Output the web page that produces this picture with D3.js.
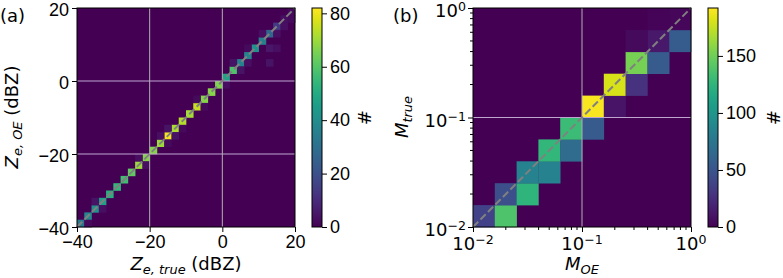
<!DOCTYPE html>
<html>
<head>
<meta charset="utf-8">
<script src="https://cdn.jsdelivr.net/npm/d3@7"></script>
<style>
  body { margin: 0; background: #fff; }
  svg { display: block; font-family: "DejaVu Sans", sans-serif; }
</style>
</head>
<body>
<svg id="chart" width="783" height="278"></svg>
<script>
// Panel (a): bin edges in dBZ, diagonal counts and the few off-diagonal cells
const zeEdges = [-40, -38, -36, -34, -32, -30, -28, -26, -24, -22, -20, -18, -16, -14, -12, -10,
  -8, -6, -4, -2, 0, 2, 4, 6, 8, 10, 12, 14, 16, 18, 20];
const zeDiag = [33, 38, 41, 47, 52, 54, 57, 62, 70, 67, 67, 70, 81, 72, 73, 71, 75, 67, 67, 66,
  48, 59, 36, 36, 41, 35, 27, 14, 3, 2];
const zeOff = [ // [x bin, y bin, count]
  [2, 3, 4], [3, 2, 3], [1, 0, 2], [8, 9, 3], [9, 8, 3], [12, 13, 4], [13, 12, 4], [11, 12, 3],
  [12, 11, 2], [14, 13, 2], [16, 17, 2], [17, 16, 2], [20, 19, 3], [21, 22, 4], [22, 21, 4],
  [23, 22, 3], [23, 24, 2], [26, 24, 5], [26, 22, 4], [27, 26, 3], [28, 27, 3], [27, 24, 3],
  [25, 26, 3], [29, 28, 2]
];
const zeTicks = [-40, -20, 0, 20];
const zeGrid = [-20, 0];
const zeCbTicks = [0, 20, 40, 60, 80];
const zeMax = 82;

// Panel (b): log bin edges and cell counts
const mEdges = [0.01, 0.01585, 0.02512, 0.03981, 0.0631, 0.1, 0.1585, 0.2512, 0.3981, 0.631, 1];
const mCells = [ // [x bin, y bin, count]
  [0, 0, 38], [1, 0, 138], [1, 1, 46], [2, 1, 125], [2, 2, 84], [3, 2, 84], [3, 3, 126],
  [4, 3, 67], [4, 4, 131], [5, 4, 54], [5, 5, 190], [6, 5, 10], [6, 6, 180], [7, 6, 27],
  [7, 7, 152], [8, 7, 54], [8, 8, 12], [9, 8, 55], [7, 8, 5], [9, 9, 3], [8, 9, 2]
];
const mTicks = [0.01, 0.1, 1];
const mExp = ["\u22122", "\u22121", "0"];
const mGrid = [0.1];
const mCbTicks = [0, 50, 100, 150];
const mMax = 192;

const svg = d3.select("#chart");
const fs = 18;

function panel(o) {
  const g = svg.append("g");
  const x = o.xScale, y = o.yScale;
  const color = d3.scaleSequential(d3.interpolateViridis).domain([0, o.vmax]);

  // background = zero count
  g.append("rect")
    .attr("x", o.x0).attr("y", o.y0)
    .attr("width", o.x1 - o.x0).attr("height", o.y1 - o.y0)
    .attr("fill", color(0));

  g.selectAll(".cell")
    .data(o.cells)
    .enter()
    .append("rect")
    .attr("x", (d) => x(o.edges[d[0]]))
    .attr("y", (d) => y(o.edges[d[1] + 1]))
    .attr("width", (d) => x(o.edges[d[0] + 1]) - x(o.edges[d[0]]) + 0.3)
    .attr("height", (d) => y(o.edges[d[1]]) - y(o.edges[d[1] + 1]) + 0.3)
    .attr("fill", (d) => color(d[2]));

  // grid
  o.grid.forEach((v) => {
    g.append("line")
      .attr("x1", x(v)).attr("x2", x(v)).attr("y1", o.y0).attr("y2", o.y1)
      .attr("stroke", "#b0b0b0").attr("stroke-width", 1);
    g.append("line")
      .attr("x1", o.x0).attr("x2", o.x1).attr("y1", y(v)).attr("y2", y(v))
      .attr("stroke", "#bfa6cf").attr("stroke-width", 1);
  });

  // 1:1 line
  const dom = x.domain();
  g.append("line")
    .attr("x1", x(dom[0])).attr("y1", y(dom[0]))
    .attr("x2", x(dom[1])).attr("y2", y(dom[1]))
    .attr("stroke", "#808080").attr("stroke-width", 2)
    .attr("stroke-dasharray", "7.4,3.2");

  // axes
  const xAxis = g.append("g").attr("transform", `translate(0,${o.y1})`)
    .call(o.axisX(d3.axisBottom(x)));
  const yAxis = g.append("g").attr("transform", `translate(${o.x0},0)`)
    .call(o.axisY(d3.axisLeft(y)));
  [xAxis, yAxis].forEach((a) => {
    a.select(".domain").remove();
    a.selectAll("text").attr("font-size", fs).attr("fill", "#000");
    a.selectAll("line").attr("stroke", "#000");
  });
  yAxis.selectAll("text").attr("dy", "0.42em");

  g.append("rect")
    .attr("x", o.x0).attr("y", o.y0)
    .attr("width", o.x1 - o.x0).attr("height", o.y1 - o.y0)
    .attr("fill", "none").attr("stroke", "#000").attr("stroke-width", 1);

  // colorbar
  const cb = d3.scaleLinear().domain([0, o.vmax]).range([o.y1, o.y0]);
  const defs = svg.append("defs");
  const grad = defs.append("linearGradient").attr("id", o.id)
    .attr("x1", 0).attr("y1", 1).attr("x2", 0).attr("y2", 0);
  d3.range(0, 1.001, 0.05).forEach((t) => {
    grad.append("stop").attr("offset", t).attr("stop-color", d3.interpolateViridis(t));
  });
  g.append("rect")
    .attr("x", o.cbx).attr("y", o.y0).attr("width", 10).attr("height", o.y1 - o.y0)
    .attr("fill", `url(#${o.id})`).attr("stroke", "#000").attr("stroke-width", 1);
  const cbAxis = g.append("g").attr("transform", `translate(${o.cbx + 10},0)`)
    .call(d3.axisRight(cb).tickValues(o.cbTicks).tickSize(5).tickPadding(3));
  cbAxis.select(".domain").remove();
  cbAxis.selectAll("text").attr("font-size", fs).attr("fill", "#000");
  cbAxis.selectAll("line").attr("stroke", "#000");

  g.append("text")
    .attr("transform", `translate(${o.cbLabelX},${(o.y0 + o.y1) / 2}) rotate(90)`)
    .attr("text-anchor", "middle").attr("font-size", fs).text("#");

  g.append("text").attr("x", o.tagX).attr("y", 22).attr("font-size", fs).text(o.tag);
  return g;
}

function addSub(text, main, sub, rest) {
  text.append("tspan").attr("font-style", "italic").text(main);
  text.append("tspan").attr("font-style", "italic").attr("font-size", fs * 0.72)
    .attr("dy", 4).text(sub);
  if (rest) text.append("tspan").attr("dy", -4).text(rest);
}

// ---- panel (a)
const xa = d3.scaleLinear().domain([-40, 20]).range([77, 295]);
const ya = d3.scaleLinear().domain([-40, 20]).range([227, 8]);
const cellsA = zeDiag.map((v, i) => [i, i, v]).concat(zeOff);
const fmt = (d) => (d < 0 ? "\u2212" + Math.abs(d) : String(d));

panel({
  id: "cbA", x0: 77, x1: 295, y0: 8, y1: 227, xScale: xa, yScale: ya,
  edges: zeEdges, cells: cellsA, vmax: zeMax, grid: zeGrid,
  axisX: (a) => a.tickValues(zeTicks).tickFormat(fmt).tickSize(5).tickPadding(3),
  axisY: (a) => a.tickValues(zeTicks).tickFormat(fmt).tickSize(5).tickPadding(3),
  cbx: 312, cbTicks: zeCbTicks, cbLabelX: 358, tag: "(a)", tagX: 0
});

const xla = svg.append("text").attr("x", 186).attr("y", 270)
  .attr("text-anchor", "middle").attr("font-size", fs);
addSub(xla, "Z", "e, true", " (dBZ)");
const yla = svg.append("text").attr("transform", "translate(18,117) rotate(-90)")
  .attr("text-anchor", "middle").attr("font-size", fs);
addSub(yla, "Z", "e, OE", " (dBZ)");

// ---- panel (b)
const xb = d3.scaleLog().domain([0.01, 1]).range([473, 691]);
const yb = d3.scaleLog().domain([0.01, 1]).range([227, 8]);
const minor = [];
[0.01, 0.1].forEach((b) => d3.range(2, 10).forEach((k) => minor.push(b * k)));

const gb = panel({
  id: "cbB", x0: 473, x1: 691, y0: 8, y1: 227, xScale: xb, yScale: yb,
  edges: mEdges, cells: mCells, vmax: mMax, grid: mGrid,
  axisX: (a) => a.tickValues(mTicks).tickFormat(() => "").tickSize(5).tickPadding(3),
  axisY: (a) => a.tickValues(mTicks).tickFormat(() => "").tickSize(5).tickPadding(3),
  cbx: 708, cbTicks: mCbTicks, cbLabelX: 767, tag: "(b)", tagX: 393
});

// minor log ticks
gb.selectAll(".mx").data(minor).enter().append("line")
  .attr("x1", (d) => xb(d)).attr("x2", (d) => xb(d)).attr("y1", 227).attr("y2", 230)
  .attr("stroke", "#000");
gb.selectAll(".my").data(minor).enter().append("line")
  .attr("y1", (d) => yb(d)).attr("y2", (d) => yb(d)).attr("x1", 473).attr("x2", 470)
  .attr("stroke", "#000");

// power-of-ten labels
mTicks.forEach((v, i) => {
  const tx = gb.append("text").attr("x", xb(v)).attr("y", 250)
    .attr("text-anchor", "middle").attr("font-size", fs);
  tx.append("tspan").text("10");
  tx.append("tspan").attr("font-size", fs * 0.7).attr("dy", -6).text(mExp[i]);
  const ty = gb.append("text").attr("x", 466).attr("y", yb(v) + 9)
    .attr("text-anchor", "end").attr("font-size", fs);
  ty.append("tspan").text("10");
  ty.append("tspan").attr("font-size", fs * 0.7).attr("dy", -6).text(mExp[i]);
});

const xlb = svg.append("text").attr("x", 582).attr("y", 270)
  .attr("text-anchor", "middle").attr("font-size", fs);
addSub(xlb, "M", "OE");
const ylb = svg.append("text").attr("transform", "translate(408,117) rotate(-90)")
  .attr("text-anchor", "middle").attr("font-size", fs);
addSub(ylb, "M", "true");
</script>
</body>
</html>
